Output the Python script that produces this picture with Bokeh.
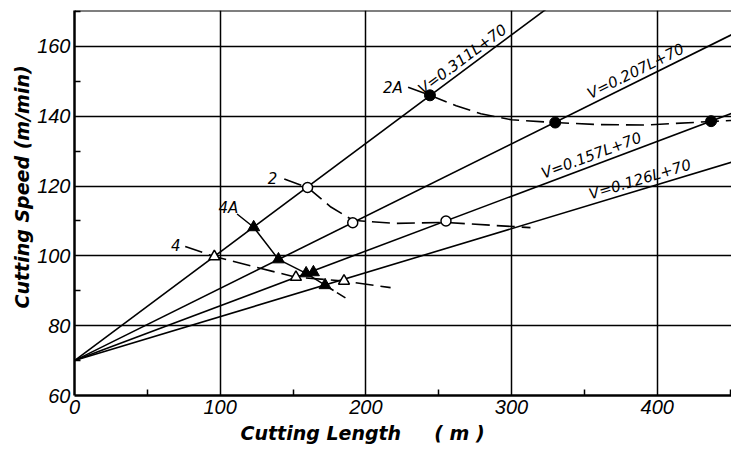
import math
from bokeh.plotting import figure
from bokeh.models import Range1d, Span, FixedTicker, Title
from bokeh.embed import file_html
from bokeh.resources import INLINE
from bokeh.core.properties import value

# ---------------- data ----------------
slopes = [0.311, 0.207, 0.157, 0.126]
intercept = 70
line_labels = ["V=0.311L+70", "V=0.207L+70", "V=0.157L+70", "V=0.126L+70"]
label_L = [270, 388, 357, 390]

s2A_L = [244, 330, 437]
s2A_V = [146.0, 138.2, 138.6]
s2_L = [160, 191, 255]
s2_V = [119.6, 109.5, 110.0]
s4A_L = [123, 140, 159, 164, 172]
s4A_V = [108.2, 99.0, 95.0, 95.3, 91.6]
s4_L = [96, 152, 185]
s4_V = [99.8, 93.9, 92.8]

lead2A_L = [229, 244]
lead2A_V = [148.3, 146.0]
curve2A_L = [244, 262, 279, 300, 330, 360, 393, 437, 451]
curve2A_V = [146.0, 143.0, 140.7, 139.0, 138.2, 137.6, 137.5, 138.5, 138.8]
curve2_L = [144, 160, 176, 191, 220, 255, 285, 313]
curve2_V = [122.0, 119.6, 114.0, 110.2, 109.3, 109.6, 108.8, 108.1]
curve4_L = [76, 96, 125, 152, 185, 217]
curve4_V = [102.7, 99.8, 96.7, 93.9, 92.8, 90.9]
curve4A_L = [111.6, 123, 140, 159, 172]
curve4A_V = [112.0, 108.2, 99.0, 95.0, 91.6]
tail4A_L = [172, 187]
tail4A_V = [91.6, 87.7]

series_names = ["2A", "2", "4A", "4"]
series_L = [218.5, 135.9, 105.7, 69.5]
series_V = [148.1, 122.3, 113.7, 103.0]

x_ticks = [0, 100, 200, 300, 400]
x_minor = [50, 150, 250, 350, 450]
y_ticks = [60, 80, 100, 120, 140, 160]
y_minor = [70, 90, 110, 130, 150, 170]

y_title = "Cutting Speed (m/min)"
x_title = "Cutting Length \u00a0 \u00a0 ( m )"

# ---------------- figure ----------------
W, H = 731, 453
LB, RB, TB, BB = 74, 0, 10, 58
x0, x1 = 0, 451
y0, y1 = 60, 170.3

p = figure(width=W, height=H, x_range=Range1d(x0, x1), y_range=Range1d(y0, y1),
           output_backend="svg", toolbar_location=None,
           min_border_left=LB, min_border_right=RB, min_border_top=TB, min_border_bottom=BB)
p.outline_line_color = None
p.background_fill_color = "white"
p.border_fill_color = "white"

tick_font = "Liberation Sans"
for ax, tk, mn in ((p.xaxis, x_ticks, x_minor), (p.yaxis, y_ticks, y_minor)):
    ax.ticker = FixedTicker(ticks=tk, minor_ticks=mn)
    ax.axis_line_width = 2.5
    ax.axis_line_color = "black"
    ax.major_tick_in = 0
    ax.major_tick_out = 0
    ax.minor_tick_in = 6
    ax.minor_tick_out = 0
    ax.minor_tick_line_width = 1.5
    ax.minor_tick_line_color = "black"
    ax.major_label_text_font = tick_font
    ax.major_label_text_font_style = "italic"
    ax.major_label_text_font_size = "20px"
    ax.major_label_text_color = "black"
    ax.major_label_standoff = 4

for g in (p.xgrid, p.ygrid):
    g.grid_line_color = "black"
    g.grid_line_width = 1.5
    g.grid_line_alpha = 1.0

p.add_layout(Span(location=y1, dimension="width", line_color="black", line_width=2))

# straight lines
fw = W - LB - RB
fh = H - TB - BB
sx = fw / (x1 - x0)
sy = fh / (y1 - y0)
for s in slopes:
    p.line([x0, x1], [intercept + s * x0, intercept + s * x1], line_color="black", line_width=1.6)

angles = [math.atan(s * sy / sx) for s in slopes]
p.text(x=label_L, y=[intercept + s * L for s, L in zip(slopes, label_L)], text=line_labels,
       angle=angles, text_align="center", text_baseline="bottom", y_offset=-1,
       text_font=value("DejaVu Sans"), text_font_style="italic", text_font_size="15px",
       text_color="black")

dash = "18 7"
p.line(lead2A_L, lead2A_V, line_color="black", line_width=1.5)
p.line(curve2A_L, curve2A_V, line_color="black", line_width=1.6, line_dash=dash)
p.line(curve2_L, curve2_V, line_color="black", line_width=1.6, line_dash=dash)
p.line(curve4_L, curve4_V, line_color="black", line_width=1.6, line_dash=dash)
p.line(curve4A_L, curve4A_V, line_color="black", line_width=1.5)
p.line(tail4A_L, tail4A_V, line_color="black", line_width=1.6, line_dash="10 4")

p.scatter(s2A_L, s2A_V, marker="circle", size=11, fill_color="black", line_color="black")
p.scatter(s2_L, s2_V, marker="circle", size=10, fill_color="white", line_color="black", line_width=1.5)
p.scatter(s4A_L, s4A_V, marker="triangle", size=12, fill_color="black", line_color="black")
p.scatter(s4_L, s4_V, marker="triangle", size=11, fill_color="white", line_color="black", line_width=1.5)

p.text(x=series_L, y=series_V, text=series_names, text_align="center", text_baseline="middle",
       text_font=value("DejaVu Sans"), text_font_style="italic", text_font_size="15px",
       text_color="black")

# axis titles as side-panel titles
p.add_layout(Title(text=y_title, align="left", offset=87, standoff=4,
                   text_font="DejaVu Sans", text_font_style="bold italic",
                   text_font_size="19px", text_color="black"), "left")
p.add_layout(Title(text=x_title, align="left", offset=166, standoff=6,
                   text_font="DejaVu Sans", text_font_style="bold italic",
                   text_font_size="19px", text_color="black"), "below")

open("out.html", "w").write(file_html(p, INLINE))
